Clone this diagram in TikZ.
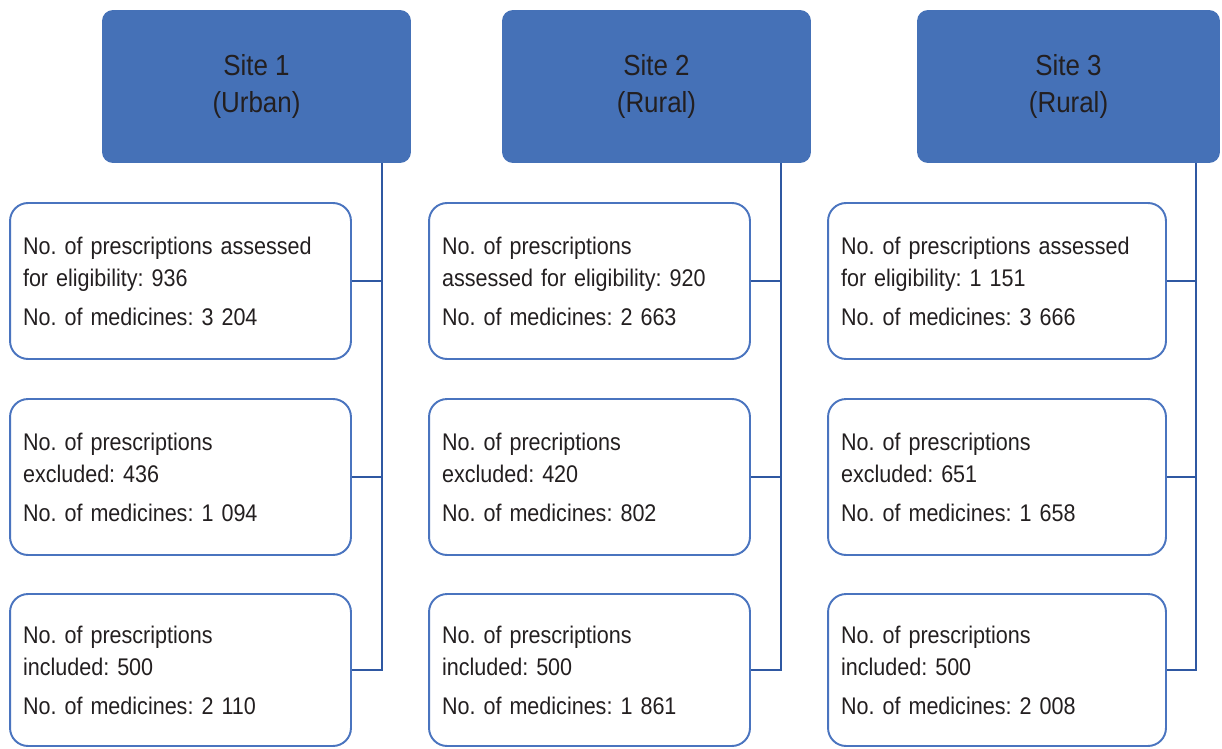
\documentclass[tikz,border=0pt]{standalone}
\usepackage{fontspec}
\setmainfont{Liberation Sans}[FakeStretch=0.895]
\usetikzlibrary{positioning, calc}
\definecolor{siteblue}{HTML}{4571B7}
\definecolor{boxborder}{HTML}{4A74BF}
\definecolor{linkblue}{HTML}{2F58A2}
\definecolor{textdark}{HTML}{231F20}
\frenchspacing

\begin{document}
\begin{tikzpicture}[x=0.02cm, y=-0.02cm,
    site/.style={fill=siteblue, rounded corners=0.22cm, minimum height=3.06cm,
      align=center, text=textdark, inner sep=0pt,
      font=\fontsize{16.5}{21.6}\selectfont},
    countbox/.style={draw=boxborder, line width=1.1pt, rounded corners=0.36cm,
      fill=white, minimum height=3.12cm, align=left, inner xsep=0.26cm,
      text=textdark, font=\fontsize{13.7}{18.5}\selectfont},
    link/.style={draw=linkblue, line width=1.2pt}]
  \useasboundingbox (0,0) rectangle (1222,749);

  % site 1
  \node[site, minimum width=6.18cm] (siteA) at (256.5,86.5) {Site 1\\(Urban)};
  \node[countbox, text width=6.30cm] (A1) at (180.5,281)
    {No. of prescriptions assessed\\for eligibility: 936\\[3.5pt]No. of medicines: 3 204};
  \node[countbox, text width=6.30cm] (A2) at (180.5,477)
    {No. of prescriptions\\excluded: 436\\[3.5pt]No. of medicines: 1 094};
  \node[countbox, text width=6.30cm, minimum height=3.04cm] (A3) at (180.5,670)
    {No. of prescriptions\\included: 500\\[3.5pt]No. of medicines: 2 110};

  % site 2
  \node[site, minimum width=6.18cm] (siteB) at (656.5,86.5) {Site 2\\(Rural)};
  \node[countbox, text width=5.90cm] (B1) at (589.5,281)
    {No. of prescriptions\\assessed for eligibility: 920\\[3.5pt]No. of medicines: 2 663};
  \node[countbox, text width=5.90cm] (B2) at (589.5,477)
    {No. of precriptions\\excluded: 420\\[3.5pt]No. of medicines: 802};
  \node[countbox, text width=5.90cm, minimum height=3.04cm] (B3) at (589.5,670)
    {No. of prescriptions\\included: 500\\[3.5pt]No. of medicines: 1 861};

  % site 3
  \node[site, minimum width=6.06cm] (siteC) at (1068.5,86.5) {Site 3\\(Rural)};
  \node[countbox, text width=6.24cm] (C1) at (997,281)
    {No. of prescriptions assessed\\for eligibility: 1 151\\[3.5pt]No. of medicines: 3 666};
  \node[countbox, text width=6.24cm] (C2) at (997,477)
    {No. of prescriptions\\excluded: 651\\[3.5pt]No. of medicines: 1 658};
  \node[countbox, text width=6.24cm, minimum height=3.04cm] (C3) at (997,670)
    {No. of prescriptions\\included: 500\\[3.5pt]No. of medicines: 2 008};

  % trunks
  \coordinate (trunkA) at ($(siteA.south east)+(-29,0)$);
  \coordinate (trunkB) at ($(siteB.south east)+(-30,0)$);
  \coordinate (trunkC) at ($(siteC.south east)+(-24,0)$);

  \foreach \col in {A,B,C} {
    \draw[link] (trunk\col) |- (\col3.east);
    \draw[link] (\col1.east) -- (\col1.east -| trunk\col);
    \draw[link] (\col2.east) -- (\col2.east -| trunk\col);
  }
\end{tikzpicture}
\end{document}
